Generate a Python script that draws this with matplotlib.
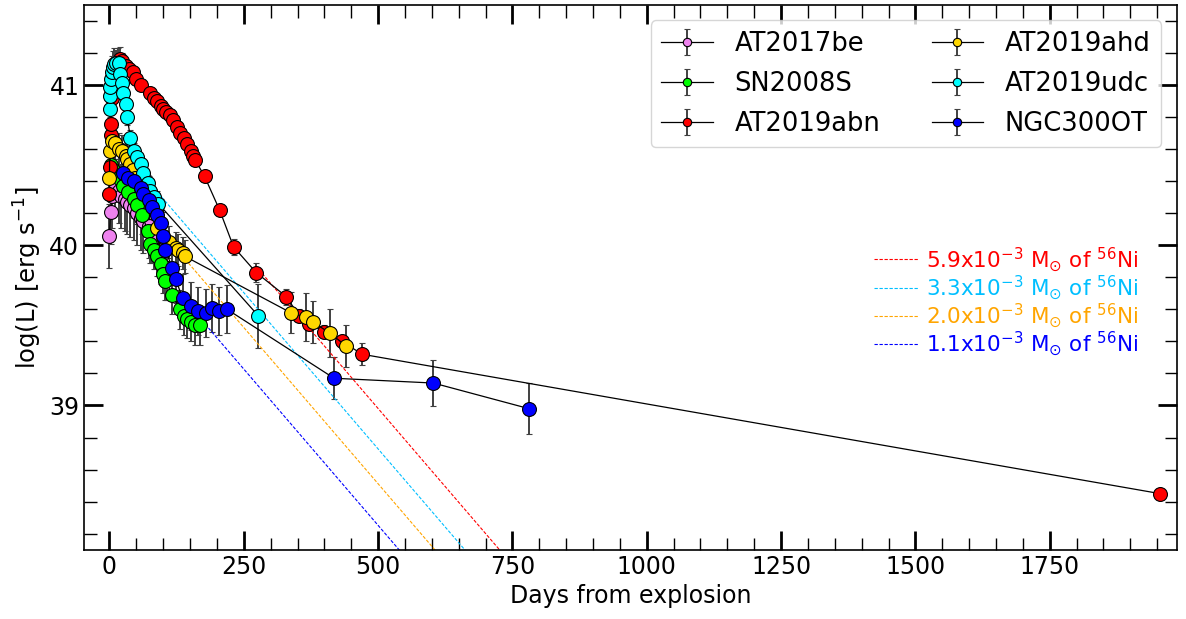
import numpy as np
import matplotlib.pyplot as plt
from matplotlib.ticker import MultipleLocator

fontsize = 17

# AT2017be
t_17be = [0, 2, 5, 11, 17, 22, 28, 33, 39, 46, 52, 58, 63, 73, 80, 89, 98, 108]
L_17be = [40.06, 40.21, 40.31, 40.39, 40.34, 40.31, 40.29, 40.27, 40.25, 40.23,
          40.20, 40.17, 40.15, 40.12, 40.09, 40.06, 39.97, 39.86]
e_17be = [0.2, 0.2, 0.2, 0.2, 0.2, 0.2, 0.2, 0.2, 0.2, 0.2,
          0.2, 0.2, 0.2, 0.2, 0.2, 0.2, 0.2, 0.2]

# SN2008S
t_08S = [2, 7, 17, 26, 35, 45, 52, 61, 71, 76, 82, 89, 95, 100, 104, 117,
         132, 138, 145, 151, 160, 169]
L_08S = [40.50, 40.47, 40.42, 40.37, 40.33, 40.29, 40.25, 40.19, 40.09, 40.01,
         39.97, 39.93, 39.88, 39.82, 39.78, 39.69, 39.60, 39.56, 39.54, 39.52,
         39.50, 39.50]
e_08S = [0.12, 0.12, 0.12, 0.12, 0.12, 0.12, 0.12, 0.12, 0.12, 0.12, 0.12,
         0.12, 0.12, 0.12, 0.12, 0.12, 0.12, 0.12, 0.12, 0.12, 0.12, 0.12]

# AT2019abn
t_abn = [0, 1, 2, 3, 5, 8, 12, 16, 20, 24, 30, 36, 43, 50, 58, 76, 82, 89, 95,
         100, 106, 113, 119, 126, 132, 138, 145, 151, 156, 160, 177, 205, 231,
         273, 329, 353, 372, 400, 433, 470, 1955]
L_abn = [40.32, 40.49, 40.69, 40.76, 40.92, 41.00, 41.08, 41.13, 41.16, 41.15,
         41.12, 41.10, 41.08, 41.04, 41.00, 40.95, 40.92, 40.90, 40.87, 40.85,
         40.83, 40.81, 40.78, 40.74, 40.70, 40.67, 40.63, 40.59, 40.56, 40.53,
         40.43, 40.22, 39.99, 39.83, 39.68, 39.56, 39.51, 39.46, 39.40, 39.32,
         38.45]
e_abn = [0.03, 0.03, 0.03, 0.03, 0.03, 0.05, 0.08, 0.1, 0.08, 0.05, 0.03, 0.03,
         0.03, 0.03, 0.03, 0.03, 0.03, 0.03, 0.03, 0.03, 0.03, 0.03, 0.03, 0.03,
         0.03, 0.03, 0.03, 0.03, 0.03, 0.03, 0.03, 0.03, 0.05, 0.06, 0.05, 0.04,
         0.04, 0.04, 0.04, 0.07, 0.03]

# AT2019ahd
t_ahd = [0, 0.5, 5.5, 11, 17, 24, 30, 33, 39, 43, 48, 58, 67, 76, 86, 89, 99,
         110, 123, 128, 136, 141, 337, 365, 379, 411, 441]
L_ahd = [40.42, 40.59, 40.65, 40.64, 40.60, 40.59, 40.56, 40.54, 40.51, 40.47,
         40.42, 40.36, 40.32, 40.28, 40.22, 40.11, 40.05, 40.02, 39.98, 39.97,
         39.95, 39.93, 39.58, 39.55, 39.52, 39.45, 39.37]
e_ahd = [0.1, 0.1, 0.1, 0.1, 0.1, 0.1, 0.1, 0.1, 0.1, 0.1, 0.1, 0.1, 0.1,
         0.1, 0.1, 0.1, 0.1, 0.1, 0.1, 0.1, 0.1, 0.1, 0.13, 0.15, 0.13, 0.15,
         0.13]

# AT2019udc
t_udc = [0.5, 1, 1.5, 2.5, 4, 6, 9, 13, 17, 20, 24, 26, 30, 33, 39, 45, 52,
         58, 63, 71, 76, 82, 91, 277]
L_udc = [40.85, 40.93, 40.99, 41.04, 41.08, 41.11, 41.13, 41.14, 41.14, 41.07,
         41.01, 40.95, 40.88, 40.80, 40.67, 40.59, 40.55, 40.51, 40.45, 40.39,
         40.34, 40.30, 40.26, 39.56]
e_udc = [0.05, 0.05, 0.08, 0.1, 0.1, 0.1, 0.1, 0.08, 0.06, 0.05, 0.05, 0.05,
         0.05, 0.05, 0.05, 0.05, 0.05, 0.05, 0.05, 0.05, 0.05, 0.05, 0.05, 0.2]

# NGC300OT
t_300 = [26, 35, 45, 58, 63, 73, 80, 89, 95, 99, 104, 117, 123, 136, 151, 164,
         179, 190, 203, 219, 418, 603, 781]
L_300 = [40.45, 40.42, 40.40, 40.36, 40.32, 40.28, 40.24, 40.19, 40.14, 40.06,
         39.97, 39.86, 39.79, 39.67, 39.62, 39.59, 39.58, 39.61, 39.59, 39.60,
         39.17, 39.14, 38.98]
e_300 = [0.15, 0.15, 0.15, 0.15, 0.15, 0.15, 0.15, 0.15, 0.15, 0.15, 0.15,
         0.15, 0.15, 0.15, 0.15, 0.15, 0.15, 0.15, 0.15, 0.15, 0.13, 0.145, 0.16]

objects = [
    ('AT2017be', t_17be, L_17be, e_17be, 'violet'),
    ('SN2008S', t_08S, L_08S, e_08S, 'lime'),
    ('AT2019abn', t_abn, L_abn, e_abn, 'red'),
    ('AT2019ahd', t_ahd, L_ahd, e_ahd, 'gold'),
    ('AT2019udc', t_udc, L_udc, e_udc, 'cyan'),
    ('NGC300OT', t_300, L_300, e_300, 'blue'),
]

# 56Ni masses (Msun), colours and start of the decay tails (days)
ni_mass = [5.9e-3, 3.3e-3, 2.0e-3, 1.1e-3]
ni_color = ['red', 'deepskyblue', 'orange', 'blue']
ni_start = [272, 91, 141, 160]


def L_decay(t, M):
    # Ni -> Co -> Fe radioactive luminosity (erg/s)
    return M * (6.45e43 * np.exp(-t / 8.8) + 1.45e43 * np.exp(-t / 111.3))


fig = plt.figure(figsize=(11.86, 6.19), dpi=100)
ax = fig.add_axes([0.071, 0.112, 0.921, 0.880])

handles = []
for name, t, L, e, c in objects:
    h = ax.errorbar(t, L, yerr=e, fmt='o-', color='k', lw=0.9, ms=10,
                    mfc=c, mec='k', mew=0.8, ecolor='0.25', elinewidth=1.4,
                    capsize=2, label=name)
    handles.append(h)

ni_lines = []
for M, c, t0 in zip(ni_mass, ni_color, ni_start):
    t = np.linspace(t0, 800, 300)
    l, = ax.plot(t, np.log10(L_decay(t, M)), ls=(0, (3, 1.5)), lw=0.8, color=c)
    ni_lines.append(l)

leg1 = ax.legend(handles=handles, loc='upper right', ncol=2, fontsize=18.5,
                 markerscale=0.6, handlelength=2.0, handletextpad=0.85,
                 columnspacing=2.0, labelspacing=0.55, borderaxespad=0.6)
ax.add_artist(leg1)

ni_labels = [r'{:.1f}x10$^{{-3}}$ M$_{{\odot}}$ of $^{{56}}$Ni'.format(M * 1e3)
             for M in ni_mass]
leg2 = ax.legend(ni_lines, ni_labels, loc='center left',
                 bbox_to_anchor=(0.705, 0.455), frameon=False, fontsize=15.5,
                 handlelength=2.1, labelspacing=0.0, handletextpad=0.35)
for txt, c in zip(leg2.get_texts(), ni_color):
    txt.set_color(c)

ax.set_xlim(-47, 1986)
ax.set_ylim(38.1, 41.5)
ax.xaxis.set_major_locator(MultipleLocator(250))
ax.xaxis.set_minor_locator(MultipleLocator(50))
ax.yaxis.set_major_locator(MultipleLocator(1))
ax.yaxis.set_minor_locator(MultipleLocator(0.2))
ax.tick_params(which='both', direction='in', top=True, right=True,
               labelsize=fontsize)
ax.tick_params(which='major', length=14, width=2)
ax.tick_params(which='minor', length=9, width=1)
for s in ax.spines.values():
    s.set_linewidth(1.2)

ax.set_xlabel('Days from explosion', fontsize=fontsize)
ax.set_ylabel(r'log(L) [erg s$^{-1}$]', fontsize=17.5)

plt.savefig('out.png', dpi=100)
